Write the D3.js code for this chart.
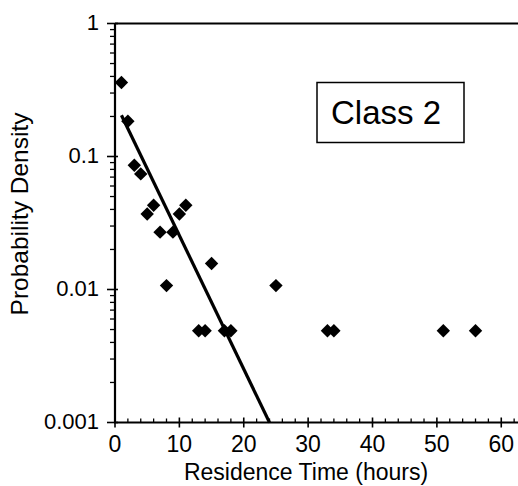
<!DOCTYPE html>
<html>
<head>
<meta charset="utf-8">
<script src="https://cdn.jsdelivr.net/npm/d3@7"></script>
<style>
    body { margin: 0; background: #fff; }
    svg { display: block; font-family: "Liberation Sans", Arial, Helvetica, sans-serif; }
</style>
</head>
<body>
<div id="chart"></div>
<script>
// residence time (hours) and probability density
const hours = [1, 2, 3, 4, 5, 6, 7, 8, 9, 10, 11, 13, 14, 15, 17, 18, 25, 33, 34, 51, 56];
const density = [0.36, 0.184, 0.086, 0.074, 0.037, 0.043, 0.027, 0.0107, 0.027, 0.037, 0.043,
    0.0049, 0.0049, 0.0157, 0.0049, 0.0049, 0.0107, 0.0049, 0.0049, 0.0049, 0.0049];

// exponential fit line endpoints
const fitHours = [1, 24];
const fitDensity = [0.204, 0.001];

const xTicks = [0, 10, 20, 30, 40, 50, 60];
const yTicks = [1, 0.1, 0.01, 0.001];
const yTickLabels = ['1', '0.1', '0.01', '0.001'];

const width = 518, height = 486;
const margin = {top: 23.5, right: 0, bottom: 64, left: 115};

const svg = d3.select('#chart')
    .append('svg')
    .attr('width', width)
    .attr('height', height);

const x = d3.scaleLinear()
    .domain([0, 62.6])
    .range([margin.left, width - margin.right]);

const y = d3.scaleLog()
    .domain([0.001, 1])
    .range([height - margin.bottom + 0.5, margin.top]);

// minor ticks
const xMinor = d3.range(0, 63, 2).filter(v => v % 10 !== 0);
const yMinor = [];
for (let dec of [0.001, 0.01, 0.1]) {
    for (let k = 2; k <= 9; k++) yMinor.push(dec * k);
}

const g = svg.append('g').attr('stroke', '#000');

// frame: left axis, bottom axis, top line
g.append('line')
    .attr('x1', x(0)).attr('x2', x(0))
    .attr('y1', y(1)).attr('y2', y(0.001))
    .attr('stroke-width', 2.2);
g.append('line')
    .attr('x1', x(0) - 1).attr('x2', width)
    .attr('y1', y(0.001)).attr('y2', y(0.001))
    .attr('stroke-width', 2.2);
g.append('line')
    .attr('x1', x(0)).attr('x2', width)
    .attr('y1', y(1)).attr('y2', y(1))
    .attr('stroke-width', 2);

// x ticks
g.selectAll('.xmaj')
    .data(xTicks)
    .join('line')
    .attr('x1', d => x(d)).attr('x2', d => x(d))
    .attr('y1', y(0.001) + 5).attr('y2', y(0.001) - 5)
    .attr('stroke-width', 1.6);
g.selectAll('.xmin')
    .data(xMinor)
    .join('line')
    .attr('x1', d => x(d)).attr('x2', d => x(d))
    .attr('y1', y(0.001)).attr('y2', y(0.001) - 4)
    .attr('stroke-width', 1.3);

// y ticks (pointing out)
g.selectAll('.ymaj')
    .data(yTicks)
    .join('line')
    .attr('x1', x(0) - 8).attr('x2', x(0) + 3)
    .attr('y1', d => y(d)).attr('y2', d => y(d))
    .attr('stroke-width', 1.6);
g.selectAll('.ymin')
    .data(yMinor)
    .join('line')
    .attr('x1', x(0) - 5).attr('x2', x(0))
    .attr('y1', d => y(d)).attr('y2', d => y(d))
    .attr('stroke-width', 1.3);

// tick labels
svg.append('g')
    .selectAll('text')
    .data(xTicks)
    .join('text')
    .attr('x', d => x(d))
    .attr('y', y(0.001) + 29)
    .attr('text-anchor', 'middle')
    .attr('font-size', 23)
    .text(d => d);

svg.append('g')
    .selectAll('text')
    .data(yTicks)
    .join('text')
    .attr('x', x(0) - 16)
    .attr('y', d => y(d) + 6)
    .attr('text-anchor', 'end')
    .attr('font-size', 22)
    .text((d, i) => yTickLabels[i]);

// axis titles
svg.append('text')
    .attr('x', 306)
    .attr('y', 480)
    .attr('text-anchor', 'middle')
    .attr('font-size', 23)
    .text('Residence Time (hours)');

svg.append('text')
    .attr('transform', 'translate(28,214) rotate(-90)')
    .attr('text-anchor', 'middle')
    .attr('font-size', 24.5)
    .text('Probability Density');

// fit line
const line = d3.line()
    .x(d => x(d[0]))
    .y(d => y(d[1]));

svg.append('path')
    .datum(d3.zip(fitHours, fitDensity))
    .attr('d', line)
    .attr('fill', 'none')
    .attr('stroke', '#000')
    .attr('stroke-width', 3.2);

// data markers (diamonds)
const diamond = d3.symbol().type(d3.symbolSquare).size(90);
svg.append('g')
    .selectAll('path')
    .data(d3.zip(hours, density))
    .join('path')
    .attr('d', diamond)
    .attr('transform', d => `translate(${x(d[0])},${y(d[1])}) rotate(45)`)
    .attr('fill', '#000');

// legend box
svg.append('rect')
    .attr('x', 317)
    .attr('y', 82.5)
    .attr('width', 147)
    .attr('height', 60)
    .attr('fill', '#fff')
    .attr('stroke', '#000')
    .attr('stroke-width', 1.5);

svg.append('text')
    .attr('x', 386)
    .attr('y', 123.5)
    .attr('text-anchor', 'middle')
    .attr('font-size', 33)
    .text('Class 2');
</script>
</body>
</html>
